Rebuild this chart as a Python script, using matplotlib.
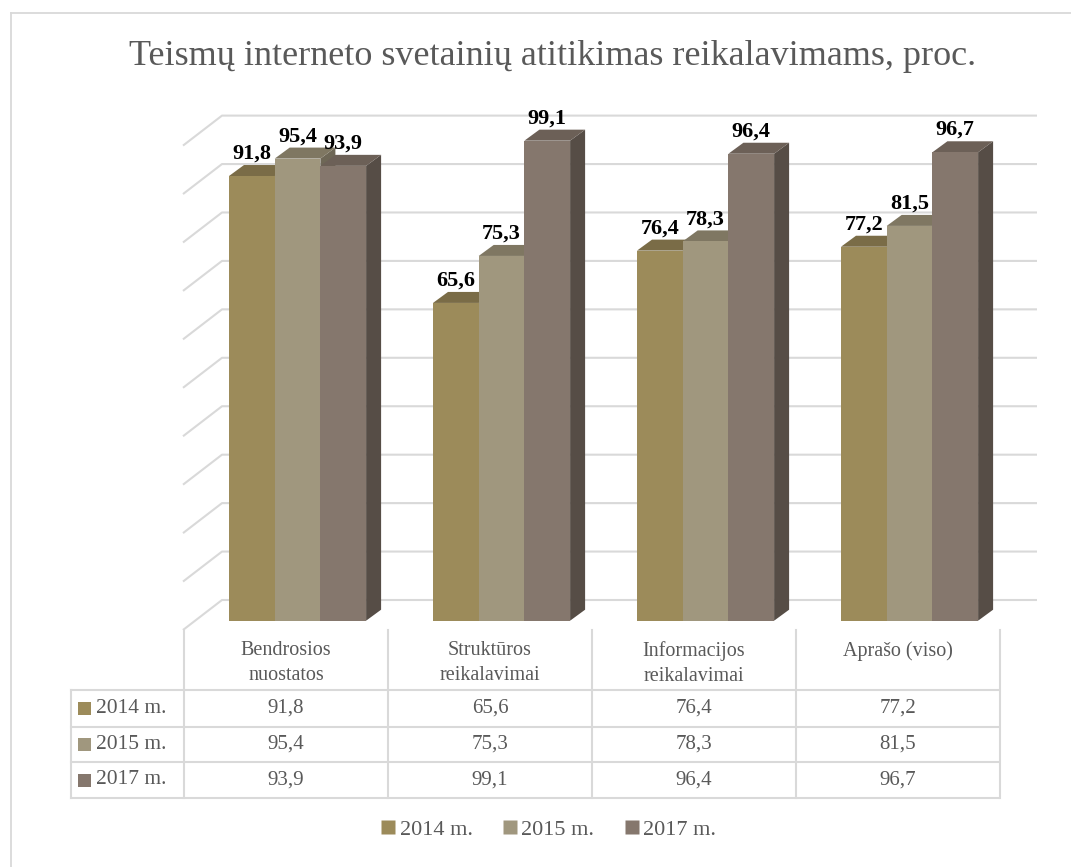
import numpy as np
import matplotlib
matplotlib.use("Agg")
import matplotlib.pyplot as plt
from matplotlib.patches import Polygon, Rectangle
from matplotlib.lines import Line2D

plt.rcParams['font.family'] = ['Liberation Serif', 'DejaVu Serif']

title = "Teismų interneto svetainių atitikimas reikalavimams, proc."
categories = ["Bendrosios\nnuostatos", "Struktūros\nreikalavimai",
              "Informacijos\nreikalavimai", "Aprašo (viso)"]
series = ["2014 m.", "2015 m.", "2017 m."]
v2014 = [91.8, 65.6, 76.4, 77.2]
v2015 = [95.4, 75.3, 78.3, 81.5]
v2017 = [93.9, 99.1, 96.4, 96.7]
values = [v2014, v2015, v2017]

front_col = ["#9c8b5a", "#a0977e", "#85776d"]
top_col = ["#7a6c47", "#7f7762", "#6c6057"]
side_col = ["#655a3b", "#6e6756", "#564d46"]
grid_col = "#d9d9d9"
text_col = "#595959"

W, H = 1071, 867


# layout helpers: reference pixel position -> data units
def xd(p):
    return (p - 184) / 204 - 0.5


def yd(q):
    return (620.7 - q) / 4.844


fig = plt.figure(figsize=(W / 100, H / 100), dpi=100)
ax = fig.add_axes([0, 0, 1, 1])
ax.set_xlim(xd(0), xd(W))
ax.set_ylim(yd(H), yd(0))
ax.axis('off')

# outer frame (only top and left edges visible)
fig.add_artist(Line2D([11 / W, 1], [1 - 13 / H, 1 - 13 / H], transform=fig.transFigure, color=grid_col, lw=1.3))
fig.add_artist(Line2D([11 / W, 11 / W], [0, 1 - 13 / H], transform=fig.transFigure, color=grid_col, lw=1.3))

# 3D style gridlines: diagonal on the side wall, horizontal on back wall
back_off = yd(600)
front_off = yd(630)
for t in np.arange(0, 101, 10):
    ax.plot([xd(183), xd(222), xd(1037)], [t + front_off, t + back_off, t + back_off],
            color=grid_col, lw=1.5, zorder=1, solid_capstyle='butt')

# bars
bw = 45.7 / 204
dx = 15 / 204
dy = 11 / 4.844
group_left = xd(229)  # left edge of the first bar in category 0
for i in range(len(categories)):
    for j in range(len(series)):
        v = values[j][i]
        l = group_left + i + j * bw
        r = l + bw
        ax.add_patch(Polygon([(r, 0), (r + dx, dy), (r + dx, v + dy), (r, v)],
                             closed=True, facecolor=side_col[j], edgecolor='none', zorder=2))
        ax.add_patch(Polygon([(l, v), (l + dx, v + dy), (r + dx, v + dy), (r, v)],
                             closed=True, facecolor=top_col[j], edgecolor='none', zorder=2))
        ax.add_patch(Rectangle((l, 0), bw, v, facecolor=front_col[j], edgecolor='none', zorder=2))
        ax.text(l + bw / 2, v + dy + 1.3, f"{v:.1f}".replace('.', ','),
                ha='center', va='baseline', fontsize=16, fontweight='bold', color='black', zorder=4)

ax.text(xd(553), yd(65), title, ha='center', va='baseline', fontsize=26, color=text_col)

# data table
row_lines = [yd(690), yd(727), yd(762), yd(798)]
for yy in row_lines:
    ax.plot([xd(71), xd(999)], [yy, yy], color=grid_col, lw=1.5, zorder=1)
for k in range(len(categories) + 1):
    ax.plot([k - 0.5, k - 0.5], [yd(630), yd(798)], color=grid_col, lw=1.5, zorder=1)
ax.plot([xd(71), xd(71)], [yd(690), yd(798)], color=grid_col, lw=1.5, zorder=1)

for i, c in enumerate(categories):
    ax.text(i, yd(641), c, ha='center', va='top', fontsize=14.5, color=text_col, linespacing=1.45)

sq_w = xd(91) - xd(78)
sq_h = 13 / 4.844
for j, s in enumerate(series):
    yc = (row_lines[j] + row_lines[j + 1]) / 2
    ax.add_patch(Rectangle((xd(78), yc - sq_h / 2), sq_w, sq_h, facecolor=front_col[j], edgecolor='none'))
    ax.text(xd(96), yc, s, ha='left', va='center', fontsize=15.5, color=text_col)
    for i in range(len(categories)):
        ax.text(i, yc, f"{values[j][i]:.1f}".replace('.', ','), ha='center', va='center',
                fontsize=15, color=text_col)

# legend
handles = [Line2D([], [], marker='s', linestyle='none', markersize=9.4,
                  markerfacecolor=front_col[j], markeredgecolor='none', label=s)
           for j, s in enumerate(series)]
leg = fig.legend(handles=handles, loc='center', bbox_to_anchor=(549 / W, 1 - 830 / H), ncol=3,
                 frameon=False, fontsize=16, handlelength=0.6, handletextpad=0.2,
                 columnspacing=1.4, labelcolor=text_col)

fig.savefig("out.png", dpi=100)
